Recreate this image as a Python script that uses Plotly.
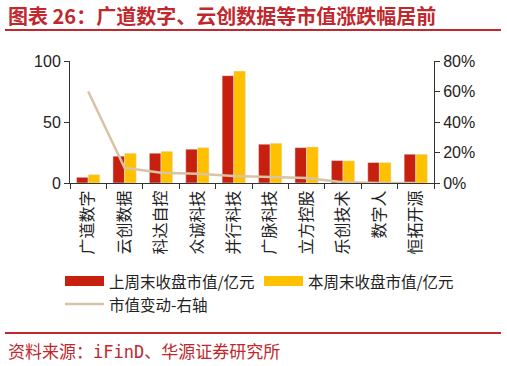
import plotly.graph_objects as go

categories = ["广道数字", "云创数据", "科达自控", "众诚科技", "并行科技",
              "广脉科技", "立方控股", "乐创技术", "数字人", "恒拓开源"]
last_week = [4.7, 22.0, 24.4, 27.7, 88.0, 31.8, 29.0, 18.4, 16.8, 23.6]
this_week = [6.9, 24.4, 26.0, 29.0, 91.8, 32.6, 29.6, 18.2, 16.8, 23.6]
change_pct = [60.0, 10.0, 6.8, 6.0, 4.6, 4.0, 3.3, 0.5, 0.0, 0.0]
left_ticks = [0, 50, 100]
right_ticks = [0, 20, 40, 60, 80]
right_ticktext = ["0%", "20%", "40%", "60%", "80%"]
series_names = ["上周末收盘市值/亿元", "本周末收盘市值/亿元", "市值变动-右轴"]

RED = "#C8200E"
YELLOW = "#FFC000"
TAN = "#D9C3A5"
TITLE_RED = "#C0282D"
FONT = "Noto Sans CJK SC"

W, H = 507, 366
L, R, T, B = 70, 434, 61, 183

def px(x):
    return (x - L) / (R - L)

def py(y):
    return (B - y) / (B - T)

fig = go.Figure()
fig.add_trace(go.Bar(x=categories, y=last_week, marker_color=RED, name=series_names[0]))
fig.add_trace(go.Bar(x=categories, y=this_week, marker_color=YELLOW, name=series_names[1]))
fig.add_trace(go.Scatter(x=categories, y=change_pct, yaxis="y2", mode="lines",
                         line=dict(color=TAN, width=2.5), name=series_names[2]))

fig.update_layout(
    width=W, height=H,
    margin=dict(l=L, r=W - R, t=T, b=H - B, pad=0),
    paper_bgcolor="white", plot_bgcolor="white",
    font=dict(family=FONT, color="#222222", size=15),
    barmode="group", bargap=0.36, bargroupgap=0,
    showlegend=False,
    xaxis=dict(showline=True, linecolor="#333333", linewidth=1,
               ticks="outside", ticklen=5, tickcolor="#333333", tickson="boundaries",
               tickangle=-90, tickfont=dict(size=16, family=FONT, color="#222222"),
               showgrid=False, fixedrange=True),
    yaxis=dict(range=[0, 100], tickvals=left_ticks, showline=True, linecolor="#333333",
               linewidth=1, ticks="outside", ticklen=5, tickcolor="#333333",
               showgrid=False, zeroline=False,
               tickfont=dict(size=16, family="Liberation Sans", color="#222222")),
    yaxis2=dict(range=[0, 80], tickvals=right_ticks, ticktext=right_ticktext,
                overlaying="y", side="right", showline=True, linecolor="#333333",
                linewidth=1, ticks="outside", ticklen=5, tickcolor="#333333",
                showgrid=False, zeroline=False,
                tickfont=dict(size=16, family="Liberation Sans", color="#222222")),
)

# manual legend
legend_items = [
    (series_names[0], RED, 65, 281, "bar"),
    (series_names[1], YELLOW, 264, 281, "bar"),
    (series_names[2], TAN, 65, 304, "line"),
]
for name, color, x0, yc, kind in legend_items:
    if kind == "bar":
        fig.add_shape(type="rect", xref="paper", yref="paper",
                      x0=px(x0), x1=px(x0 + 39), y0=py(yc - 5), y1=py(yc + 5),
                      fillcolor=color, line=dict(width=0))
    else:
        fig.add_shape(type="line", xref="paper", yref="paper",
                      x0=px(x0), x1=px(x0 + 39), y0=py(yc), y1=py(yc),
                      line=dict(color=color, width=2.5))
    fig.add_annotation(text=name, xref="paper", yref="paper", x=px(x0 + 42), y=py(yc),
                       xanchor="left", yanchor="middle", showarrow=False,
                       font=dict(size=15.5, family=FONT, color="#222222"))

fig.add_annotation(text="图表 26：广道数字、云创数据等市值涨跌幅居前",
                   xref="paper", yref="paper", x=px(6), y=py(16),
                   xanchor="left", yanchor="middle", showarrow=False,
                   font=dict(size=20, family=FONT, color=TITLE_RED, weight="bold"))
fig.add_annotation(text="资料来源：iFinD、华源证券研究所",
                   xref="paper", yref="paper", x=px(6), y=py(352),
                   xanchor="left", yanchor="middle", showarrow=False,
                   font=dict(size=17, family="DejaVu Sans Mono, Noto Sans CJK SC",
                             color=TITLE_RED))
fig.add_shape(type="line", xref="paper", yref="paper", x0=px(5), x1=px(501),
              y0=py(30), y1=py(30), line=dict(color=TITLE_RED, width=2))
fig.add_shape(type="line", xref="paper", yref="paper", x0=px(5), x1=px(501),
              y0=py(333), y1=py(333), line=dict(color=TITLE_RED, width=2))

fig.write_html("out.html")
